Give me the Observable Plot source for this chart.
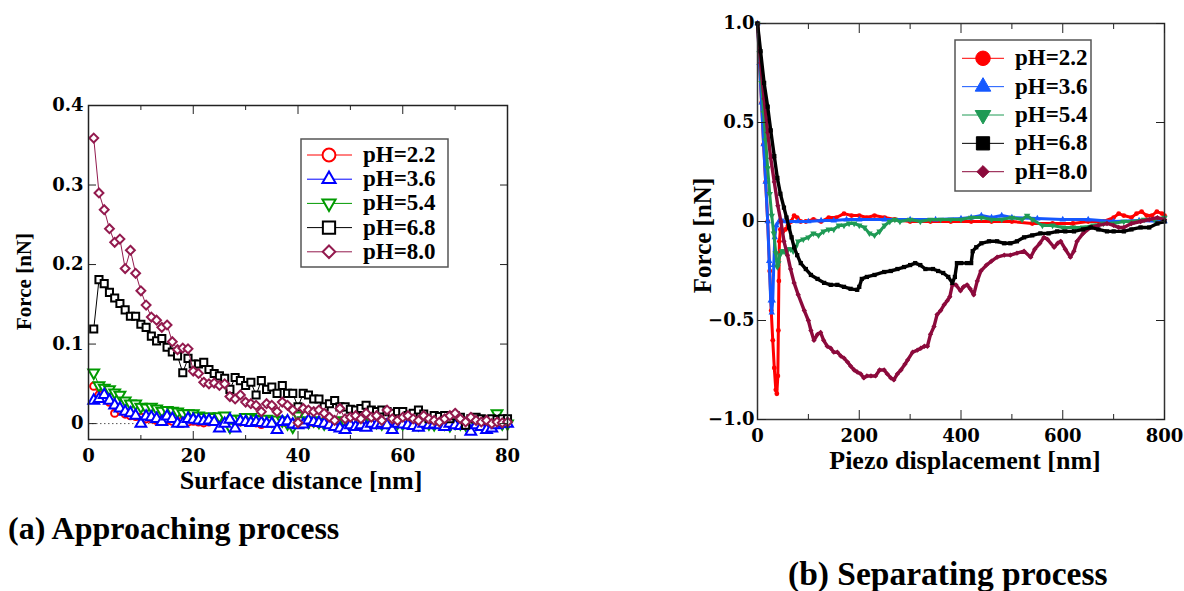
<!DOCTYPE html>
<html>
<head>
<meta charset="utf-8">
<script src="https://cdn.jsdelivr.net/npm/d3@7"></script>
<script src="https://cdn.jsdelivr.net/npm/@observablehq/plot@0.6"></script>
<style>
html,body{margin:0;padding:0;background:#fff;}
#page{position:relative;width:1184px;height:591px;overflow:hidden;background:#fff;}
#panelA{position:absolute;left:0;top:90px;}
#panelB{position:absolute;left:680px;top:0;}
#legends{position:absolute;left:0;top:0;}
.caption{position:absolute;margin:0;font-family:"Liberation Serif","Times New Roman",serif;font-weight:bold;white-space:nowrap;color:#000;}
</style>
</head>
<body>
<div id="page">
  <div id="panelA"></div>
  <div id="panelB"></div>
  <svg id="legends" width="1184" height="591"></svg>
  <div class="caption" id="capA" style="left:8px;top:512px;font-size:32px;line-height:32px;"></div>
  <div class="caption" id="capB" style="left:788px;top:557px;font-size:33.5px;line-height:33.5px;"></div>
</div>
<script>
// ---------- text ----------
const captions = ["(a) Approaching process", "(b) Separating process"];
const seriesLabels = ["pH=2.2", "pH=3.6", "pH=5.4", "pH=6.8", "pH=8.0"];
const titleA = {x: "Surface distance [nm]", y: "Force [nN]"};
const titleB = {x: "Piezo displacement [nm]", y: "Force [nN]"};

// ---------- ticks ----------
const aXMajor = [0, 20, 40, 60, 80];
const aXMinor = [10, 30, 50, 70];
const aYMajor = [0, 0.1, 0.2, 0.3, 0.4];
const bXMajor = [0, 200, 400, 600, 800];
const bXMinor = [100, 300, 500, 700];
const bYMajor = [-1, -0.5, 0, 0.5, 1];

// ---------- (a) approaching: surface distance [nm] vs force [nN] ----------
const leftDist = [1,2,3,4,5,6,7,8,9,10,11,12,13,14,15,16,17,18,19,20,
  21,22,23,24,25,26,27,28,29,30,31,32,33,34,35,36,37,38,39,40,
  41,42,43,44,45,46,47,48,49,50,51,52,53,54,55,56,57,58,59,60,
  61,62,63,64,65,66,67,68,69,70,71,72,73,74,75,76,77,78,79,80];
const aF22 = [0.047,0.036,0.031,0.027,0.013,0.017,0.012,0.010,0.009,0.008,
  0.006,0.006,0.004,0.005,0.004,0.003,0.002,0.004,0.002,0.003,
  0.002,0.001,0.002,0.006,0.004,0.004,0.002,0.003,0.002,0.004,
  0.002,0.001,-0.001,0.002,0.001,0.000,0.002,0.000,0.001,-0.001,
  0.000,0.002,0.001,0.000,0.003,0.001,0.000,-0.002,-0.004,-0.003,
  0.000,0.001,-0.001,0.000,0.002,0.000,-0.001,0.001,0.002,0.000,
  0.001,-0.001,0.000,0.001,0.000,-0.001,0.000,0.002,0.001,0.000,
  -0.001,0.001,-0.002,0.000,-0.002,-0.002,0.000,-0.001,0.000,0.001];
const aF36 = [0.029,0.031,0.036,0.029,0.023,0.019,0.015,0.013,0.010,0.000,
  0.009,0.008,0.006,0.002,0.009,0.006,0.000,0.000,0.006,0.005,
  0.004,0.003,0.004,0.002,-0.006,0.000,0.005,-0.006,0.003,0.002,
  0.001,0.002,0.001,0.000,0.000,-0.008,0.002,0.003,-0.001,-0.002,
  -0.001,0.004,0.002,0.001,0.000,-0.002,-0.004,-0.006,-0.008,-0.002,
  -0.004,-0.002,-0.005,0.000,-0.002,0.000,-0.002,-0.008,0.000,-0.001,
  -0.002,-0.003,-0.005,0.000,-0.002,-0.001,-0.002,-0.004,0.000,-0.002,
  -0.003,-0.002,-0.010,-0.002,-0.004,-0.008,-0.006,-0.002,0.000,0.000];
const aF54 = [0.064,0.048,0.045,0.043,0.039,0.036,0.029,0.025,0.025,0.021,
  0.020,0.021,0.019,0.016,0.017,0.016,0.015,0.013,0.013,0.013,
  0.010,0.008,0.009,0.008,0.009,0.010,-0.004,0.006,0.006,0.008,
  0.008,0.006,0.005,0.006,0.004,0.005,0.004,0.000,-0.004,0.010,
  0.004,0.002,0.004,0.002,0.000,0.003,0.002,0.004,0.002,0.000,
  0.002,0.001,0.003,0.001,0.002,0.000,0.002,0.000,0.001,0.000,
  0.002,0.000,-0.001,0.001,0.000,-0.001,0.001,0.000,-0.002,0.001,
  0.000,-0.001,-0.002,0.000,0.000,-0.001,0.001,0.013,0.000,0.000];
const aF68 = [0.119,0.181,0.176,0.165,0.158,0.151,0.143,0.135,0.135,0.125,
  0.121,0.110,0.104,0.107,0.096,0.090,0.085,0.064,0.082,0.075,
  0.075,0.077,0.068,0.063,0.060,0.057,0.043,0.058,0.054,0.048,
  0.052,0.036,0.054,0.043,0.046,0.038,0.048,0.038,0.038,0.021,
  0.038,0.036,0.031,0.031,0.021,0.025,0.029,0.021,0.021,0.018,
  0.017,0.019,0.023,0.017,0.015,0.017,0.015,0.013,0.015,0.015,
  0.010,0.013,0.017,0.012,0.006,0.010,0.009,0.010,0.006,0.010,
  0.008,-0.002,0.006,0.008,0.006,0.004,0.006,0.005,0.006,0.006];
const aF80 = [0.359,0.290,0.269,0.245,0.228,0.232,0.195,0.218,0.189,0.167,
  0.149,0.134,0.130,0.121,0.124,0.103,0.093,0.095,0.094,0.066,
  0.063,0.052,0.050,0.051,0.048,0.050,0.034,0.031,0.036,0.027,
  0.025,0.023,0.015,0.025,0.023,0.015,0.027,0.023,0.017,0.001,
  0.019,0.017,0.015,0.017,0.013,0.008,0.004,0.019,0.006,0.008,
  0.010,0.006,0.013,0.008,0.010,0.004,0.017,0.006,0.004,0.008,
  0.010,0.006,0.004,0.010,0.006,0.004,0.002,0.006,0.010,0.013,
  0.006,0.002,0.008,0.004,0.002,0.004,0.000,0.002,0.001,0.002];

// ---------- (b) separating: piezo displacement [nm] vs force [nN] ----------
const bX22 = [0,4,8,12,16,20,24,27,30,33,36,38,40,41,42,43,45,50,55,60,66,72,78,85,95,110,125,140,155,170,
  185,200,215,230,250,270,300,340,380,420,460,500,540,580,620,650,680,700,710,720,735,745,755,765,775,785,795,800];
const bF22 = [1.0,0.8,0.6,0.39,0.2,0.0,-0.25,-0.45,-0.6,-0.74,-0.85,-0.87,-0.78,-0.55,-0.3,-0.1,-0.04,-0.05,-0.04,-0.02,
  0.0,0.03,0.02,0.0,0.0,0.01,0.0,0.02,0.02,0.04,0.03,0.03,0.02,0.03,0.02,0.01,0.0,0.0,0.0,0.0,
  0.0,0.0,-0.01,-0.01,-0.01,0.0,0.0,0.02,0.04,0.03,0.02,0.04,0.05,0.03,0.03,0.05,0.04,0.03];
const bX36 = [0,4,8,12,16,20,23,26,28,30,32,34,37,42,50,60,80,100,125,150,175,200,250,300,350,400,420,440,460,480,
  500,550,600,650,700,750,800];
const bF36 = [1.0,0.8,0.6,0.39,0.2,0.0,-0.2,-0.4,-0.46,-0.4,-0.22,-0.08,-0.02,0.0,0.0,0.0,0.0,0.0,0.005,0.005,
  0.01,0.01,0.01,0.01,0.01,0.015,0.02,0.03,0.02,0.03,0.02,0.015,0.01,0.01,0.0,0.005,0.0];
const bX54 = [0,4,8,12,16,20,24,28,32,36,39,41,44,48,52,56,60,65,70,75,80,90,100,110,120,130,140,150,160,170,
  180,190,200,210,220,230,240,250,260,270,280,300,320,340,360,380,400,420,440,460,480,500,520,530,540,560,580,600,620,640,
  660,680,700,720,740,760,780,800];
const bF54 = [1.0,0.85,0.7,0.55,0.41,0.27,0.14,0.03,-0.06,-0.16,-0.23,-0.21,-0.17,-0.15,-0.15,-0.16,-0.14,-0.14,-0.15,-0.13,
  -0.1,-0.09,-0.08,-0.06,-0.07,-0.05,-0.04,-0.04,-0.02,-0.02,-0.01,-0.01,-0.02,-0.03,-0.06,-0.07,-0.05,-0.02,0.0,0.01,
  0.0,0.01,0.0,0.01,0.01,0.01,0.01,0.02,0.02,0.01,0.01,0.02,0.01,0.03,0.01,-0.02,-0.02,-0.03,-0.03,-0.03,
  -0.02,-0.01,-0.01,0.0,0.0,0.01,0.01,0.02];
const bX68 = [0,6,13,20,26,33,39,45,52,57,62,67,72,78,85,95,105,118,131,144,157,170,183,196,200,205,215,230,249,262,
  275,288,300,310,320,330,345,355,365,375,383,388,392,400,412,420,423,430,440,455,471,485,497,510,524,540,556,572,589,605,
  622,640,655,670,687,700,720,735,753,770,786,800];
const bF68 = [1.0,0.86,0.7,0.58,0.46,0.33,0.22,0.14,0.07,0.02,-0.03,-0.08,-0.13,-0.17,-0.21,-0.24,-0.27,-0.29,-0.31,-0.32,
  -0.32,-0.33,-0.34,-0.345,-0.33,-0.29,-0.28,-0.27,-0.255,-0.25,-0.24,-0.23,-0.22,-0.21,-0.22,-0.24,-0.24,-0.25,-0.26,-0.28,
  -0.31,-0.28,-0.21,-0.21,-0.21,-0.21,-0.15,-0.13,-0.11,-0.1,-0.1,-0.11,-0.11,-0.1,-0.08,-0.07,-0.06,-0.06,-0.05,-0.05,
  -0.05,-0.04,-0.03,-0.04,-0.05,-0.05,-0.05,-0.04,-0.03,-0.03,-0.01,0.0];
const bX80 = [0,6,13,20,26,33,40,46,52,59,65,72,80,92,100,105,111,118,124,130,137,144,150,157,164,170,177,183,190,196,
  203,209,215,223,232,240,249,255,262,268,275,282,290,295,305,314,321,328,334,340,347,353,360,367,373,378,383,390,399,405,
  412,418,425,432,439,450,460,471,485,497,510,524,537,545,555,563,570,583,590,596,605,615,622,628,640,655,670,687,700,710,
  720,735,753,770,786,800];
const bF80 = [1.0,0.8,0.62,0.45,0.32,0.2,0.08,0.0,-0.1,-0.17,-0.24,-0.31,-0.37,-0.45,-0.5,-0.55,-0.6,-0.57,-0.56,-0.6,
  -0.63,-0.64,-0.66,-0.66,-0.68,-0.69,-0.71,-0.73,-0.75,-0.76,-0.77,-0.79,-0.78,-0.78,-0.78,-0.75,-0.75,-0.77,-0.79,-0.8,
  -0.77,-0.75,-0.72,-0.7,-0.66,-0.65,-0.64,-0.63,-0.63,-0.57,-0.53,-0.47,-0.45,-0.42,-0.4,-0.38,-0.32,-0.32,-0.35,-0.33,
  -0.32,-0.34,-0.37,-0.3,-0.25,-0.22,-0.2,-0.18,-0.17,-0.17,-0.16,-0.15,-0.18,-0.14,-0.11,-0.08,-0.09,-0.13,-0.11,-0.1,
  -0.14,-0.18,-0.15,-0.1,-0.06,-0.03,-0.02,-0.01,-0.02,-0.03,-0.03,-0.01,0.0,0.01,0.02,0.01];

// ---------- styles ----------
const colorsA = ["#ff0000", "#0000ff", "#009a00", "#000000", "#931a4e"];
const colorsB = ["#ff0000", "#1558ff", "#1f9a55", "#000000", "#8c0a3c"];
const triangleDown = {
  draw(ctx, size) {
    const s3 = Math.sqrt(3);
    const y = -Math.sqrt(size / (s3 * 3));
    ctx.moveTo(0, -y * 2);
    ctx.lineTo(-s3 * y, y);
    ctx.lineTo(s3 * y, y);
    ctx.closePath();
  }
};
const plotSymbols = ["circle", "triangle", triangleDown, "square", "diamond2"];
const d3Symbols = [d3.symbolCircle, d3.symbolTriangle, triangleDown, d3.symbolSquare, d3.symbolDiamond2];

const tickFont = {fontFamily: "DejaVu Serif", fontWeight: "bold", fontSize: 18};
const titleFont = {fontFamily: "Liberation Serif", fontWeight: "bold"};
const fmtA = d => d === 0 ? "0" : d.toFixed(1);
const fmtB = d => d === 0 ? "0" : (d < 0 ? "\u2212" : "") + Math.abs(d).toFixed(1);

function frameTicks(xMajor, xMinor, yMajor, majorLen, minorLen) {
  return [
    Plot.axisX({anchor: "bottom", ticks: xMajor, tickSize: -majorLen, fill: "none", label: null, stroke: "#222"}),
    Plot.axisX({anchor: "top", ticks: xMajor, tickSize: -majorLen, fill: "none", label: null, stroke: "#222"}),
    Plot.axisX({anchor: "bottom", ticks: xMinor, tickSize: -minorLen, fill: "none", label: null, stroke: "#222"}),
    Plot.axisX({anchor: "top", ticks: xMinor, tickSize: -minorLen, fill: "none", label: null, stroke: "#222"}),
    Plot.axisY({anchor: "left", ticks: yMajor, tickSize: -majorLen, fill: "none", label: null, stroke: "#222"}),
    Plot.axisY({anchor: "right", ticks: yMajor, tickSize: -majorLen, fill: "none", label: null, stroke: "#222"})
  ];
}

// ---------- panel (a) ----------
const seriesA = [aF22, aF36, aF54, aF68, aF80];
const orderA = [0, 2, 1, 3, 4];
const marksA = [Plot.ruleY([0], {stroke: "#555", strokeWidth: 1, strokeDasharray: "1.5,2.5"})];
for (const i of orderA) {
  const rows = leftDist.map((x, j) => ({x, F: seriesA[i][j]}));
  marksA.push(Plot.line(rows, {x: "x", y: "F", stroke: colorsA[i], strokeWidth: 1}));
  marksA.push(Plot.dot(rows, {x: "x", y: "F", stroke: colorsA[i], fill: "white", strokeWidth: 2,
    r: i === 0 ? 3.6 : 4, symbol: plotSymbols[i]}));
}
const plotA = Plot.plot({
  width: 520, height: 410,
  marginLeft: 88, marginRight: 13, marginTop: 15, marginBottom: 61,
  style: {background: "transparent", color: "#000", overflow: "visible"},
  x: {domain: [0, 80]},
  y: {domain: [-0.02, 0.4]},
  marks: [
    ...marksA,
    Plot.frame({stroke: "#222", strokeWidth: 1.5}),
    ...frameTicks(aXMajor, aXMinor, aYMajor, 8, 4),
    Plot.axisX({anchor: "bottom", ticks: aXMajor, tickSize: 0, tickPadding: 10, tickFormat: d => String(d), label: null, ...tickFont}),
    Plot.axisY({anchor: "left", ticks: aYMajor, tickSize: 0, tickPadding: 5, tickFormat: fmtA, label: null, ...tickFont}),
    Plot.text([titleA.x], {text: d => d, frameAnchor: "bottom", dx: 3, dy: 41, lineAnchor: "middle", textAnchor: "middle", fontSize: 26, ...titleFont}),
    Plot.text([titleA.y], {text: d => d, frameAnchor: "left", dx: -64, dy: 9, rotate: -90, lineAnchor: "middle", textAnchor: "middle", fontSize: 21, ...titleFont})
  ]
});
document.getElementById("panelA").appendChild(plotA);

// ---------- panel (b) ----------
const seriesB = [[bX22, bF22], [bX36, bF36], [bX54, bF54], [bX68, bF68], [bX80, bF80]];
const orderB = [0, 1, 2, 4, 3];
const marksB = [];
for (const i of orderB) {
  const [xs, fs] = seriesB[i];
  const rows = xs.map((x, j) => ({x, F: fs[j]}));
  marksB.push(Plot.line(rows, {x: "x", y: "F", stroke: colorsB[i], strokeWidth: i === 3 || i === 4 ? 3.4 : 3}));
  marksB.push(Plot.dot(rows, {x: "x", y: "F", fill: colorsB[i], r: 2.4, symbol: plotSymbols[i]}));
}
const plotB = Plot.plot({
  width: 504, height: 480,
  marginLeft: 77, marginRight: 20, marginTop: 23, marginBottom: 61,
  style: {background: "transparent", color: "#000", overflow: "visible"},
  x: {domain: [0, 800]},
  y: {domain: [-1, 1]},
  marks: [
    ...marksB,
    Plot.frame({stroke: "#333", strokeWidth: 1.5}),
    ...frameTicks(bXMajor, bXMinor, bYMajor, 9, 5),
    Plot.axisX({anchor: "bottom", ticks: bXMajor, tickSize: 0, tickPadding: 10, tickFormat: d => String(d), label: null, ...tickFont}),
    Plot.axisY({anchor: "left", ticks: bYMajor, tickSize: 0, tickPadding: 3, tickFormat: fmtB, label: null, ...tickFont}),
    Plot.text([titleB.x], {text: d => d, frameAnchor: "bottom", dx: 4, dy: 41, lineAnchor: "middle", textAnchor: "middle", fontSize: 26, ...titleFont}),
    Plot.text([titleB.y], {text: d => d, frameAnchor: "left", dx: -55, dy: 14, rotate: -90, lineAnchor: "middle", textAnchor: "middle", fontSize: 25, ...titleFont})
  ]
});
document.getElementById("panelB").appendChild(plotB);

// ---------- legends ----------
const legendSvg = d3.select("#legends");
function drawLegend(cfg) {
  const g = legendSvg.append("g");
  g.append("rect").attr("x", cfg.box[0]).attr("y", cfg.box[1]).attr("width", cfg.box[2]).attr("height", cfg.box[3])
    .attr("fill", "white").attr("stroke", "#555").attr("stroke-width", 1.5);
  seriesLabels.forEach((lab, i) => {
    const cy = cfg.row0 + i * cfg.step;
    g.append("line").attr("x1", cfg.line[0]).attr("x2", cfg.line[1]).attr("y1", cy).attr("y2", cy)
      .attr("stroke", cfg.colors[i]).attr("stroke-width", 1);
    g.append("path").attr("d", d3.symbol(d3Symbols[i], cfg.sizes[i])())
      .attr("transform", `translate(${cfg.markX},${cy})`)
      .attr("fill", cfg.filled ? cfg.colors[i] : "white")
      .attr("stroke", cfg.colors[i]).attr("stroke-width", cfg.filled ? 1 : 2);
    g.append("text").attr("x", cfg.textX).attr("y", cy + 7).text(lab)
      .attr("font-family", "Liberation Serif").attr("font-weight", "bold").attr("font-size", 23).attr("fill", "#000");
  });
}
drawLegend({box: [301, 139, 147, 128], row0: 155, step: 24.2, line: [307, 352], markX: 329, textX: 363,
  colors: colorsA, filled: false, sizes: [130, 75, 75, 150, 100]});
drawLegend({box: [955, 40, 136, 151], row0: 58.3, step: 28.35, line: [962, 1004], markX: 983, textX: 1015,
  colors: colorsB, filled: true, sizes: [165, 105, 105, 175, 95]});

// ---------- captions ----------
document.getElementById("capA").textContent = captions[0];
document.getElementById("capB").textContent = captions[1];
</script>
</body>
</html>
